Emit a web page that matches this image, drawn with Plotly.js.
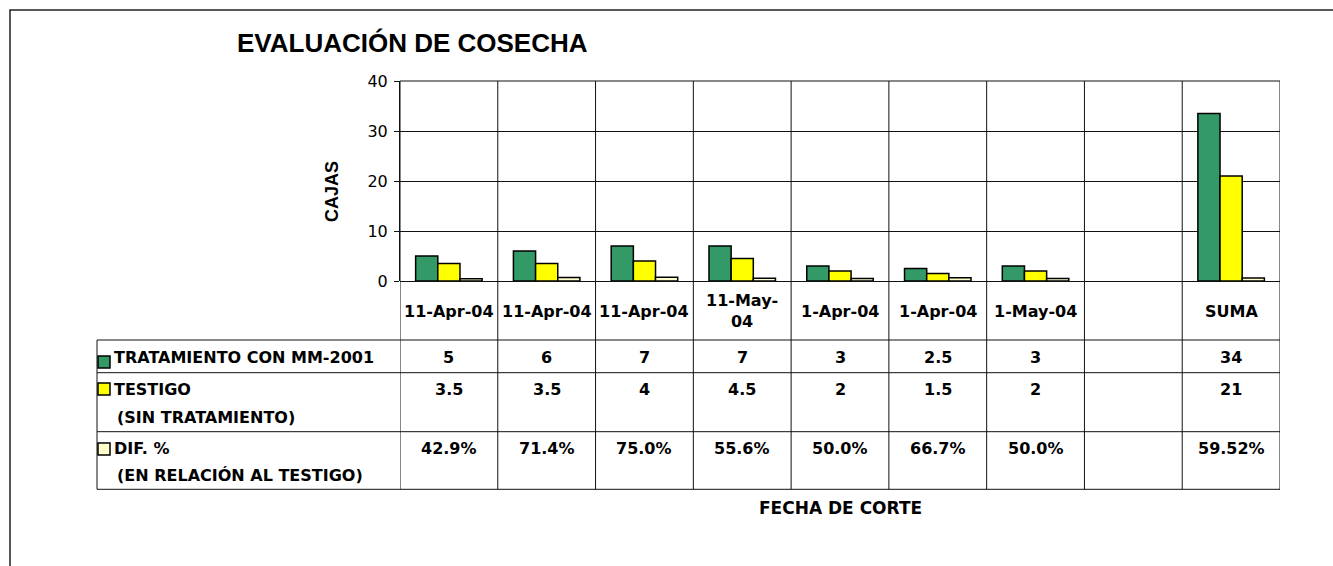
<!DOCTYPE html>
<html>
<head>
<meta charset="utf-8">
<script src="https://cdn.plot.ly/plotly-3.0.1.min.js"></script>
<style>html,body{margin:0;padding:0;background:#fff;}#chart{width:1333px;height:566px;}</style>
</head>
<body>
<div id="chart"></div>
<script>
// ---- data ----
const categories = ['11-Apr-04','11-Apr-04','11-Apr-04','11-May-04','1-Apr-04','1-Apr-04','1-May-04','','SUMA'];
const tickLabels = ['11-Apr-04','11-Apr-04','11-Apr-04','11-May-<br>04','1-Apr-04','1-Apr-04','1-May-04','','SUMA'];
const tratamiento = [5, 6, 7, 7, 3, 2.5, 3, null, 33.5];
const testigo = [3.5, 3.5, 4, 4.5, 2, 1.5, 2, null, 21];
const difPct = [0.429, 0.714, 0.750, 0.556, 0.500, 0.667, 0.500, null, 0.5952];
const tratLabels = ['5','6','7','7','3','2.5','3','','34'];
const testigoLabels = ['3.5','3.5','4','4.5','2','1.5','2','','21'];
const difLabels = ['42.9%','71.4%','75.0%','55.6%','50.0%','66.7%','50.0%','','59.52%'];
const seriesNames = ['TRATAMIENTO CON MM-2001','TESTIGO','DIF. %'];
const seriesSub = ['','(SIN TRATAMIENTO)','(EN RELACIÓN AL TESTIGO)'];
const seriesColors = ['#339966','#FFFF00','#FFFFCC'];
const yTicks = [0,10,20,30,40];

// ---- geometry helpers (pixel -> paper) ----
const L = 400, R = 1280, T = 81, B = 281;
const px2x = p => (p - L) / (R - L);
const py2y = p => (B - p) / (B - T);
const FONT = 'Liberation Sans, Arial, sans-serif';
const TFONT = 'DejaVu Sans, Liberation Sans, sans-serif';

const xIdx = categories.map((c, i) => i);
const seriesData = [tratamiento, testigo, difPct];

const traces = seriesData.map((vals, k) => ({
  type: 'bar',
  x: xIdx,
  y: vals,
  name: seriesNames[k],
  marker: {color: seriesColors[k], line: {color: '#000', width: 1.5}},
  hoverinfo: 'skip'
}));

const shapes = [];
const annotations = [];

// outer chart border
shapes.push({type:'rect', xref:'paper', yref:'paper', x0:px2x(10), x1:px2x(1345), y0:py2y(580), y1:py2y(10),
  line:{color:'#222', width:1.5}, fillcolor:'rgba(0,0,0,0)', layer:'below'});

// table rows (pixel y)
const rowLines = [340, 372.7, 431.7, 489.3];
const tableLeft = 97;
// vertical category boundaries (plot + table)
for (let i = 0; i <= categories.length; i++) {
  shapes.push({type:'line', xref:'x', yref:'paper', x0:i-0.5, x1:i-0.5, y0:py2y(rowLines[3]), y1:1,
    line:{color:'#111', width:1}});
}
// horizontal table lines
rowLines.forEach(py => {
  shapes.push({type:'line', xref:'paper', yref:'paper', x0:px2x(tableLeft), x1:1, y0:py2y(py), y1:py2y(py),
    line:{color:'#111', width:1}});
});
// left table border
shapes.push({type:'line', xref:'paper', yref:'paper', x0:px2x(tableLeft), x1:px2x(tableLeft),
  y0:py2y(rowLines[0]), y1:py2y(rowLines[3]), line:{color:'#111', width:1}});
// top of plot area
shapes.push({type:'line', xref:'paper', yref:'paper', x0:0, x1:1, y0:1, y1:1, line:{color:'#111', width:1}});

// legend keys
const keyTops = [356, 383, 443];
keyTops.forEach((py, k) => {
  shapes.push({type:'rect', xref:'paper', yref:'paper', x0:px2x(98), x1:px2x(110), y0:py2y(py+12), y1:py2y(py),
    fillcolor:seriesColors[k], line:{color:'#000', width:1.5}});
});

// title
annotations.push({xref:'paper', yref:'paper', x:px2x(412), y:py2y(43), text:'<b>EVALUACIÓN DE COSECHA</b>',
  showarrow:false, xanchor:'center', yanchor:'middle', font:{family:FONT, size:26, color:'#000'}});
// y title
annotations.push({xref:'paper', yref:'paper', x:px2x(332), y:py2y(192), text:'<b>CAJAS</b>', textangle:-90,
  showarrow:false, xanchor:'center', yanchor:'middle', font:{family:FONT, size:18, color:'#000'}});
// x title
annotations.push({xref:'paper', yref:'paper', x:px2x(840), y:py2y(508), text:'<b>FECHA DE CORTE</b>',
  showarrow:false, xanchor:'center', yanchor:'middle', font:{family:TFONT, size:17, color:'#000'}});

const cellFont = {family:TFONT, size:16, color:'#000'};
// category labels
tickLabels.forEach((t, i) => {
  if (!t) return;
  annotations.push({xref:'x', yref:'paper', x:i, y:py2y(311), text:'<b>'+t+'</b>', showarrow:false,
    xanchor:'center', yanchor:'middle', font:cellFont});
});
// values
const rowTextY = [357, 389, 448];
[tratLabels, testigoLabels, difLabels].forEach((arr, k) => {
  arr.forEach((t, i) => {
    if (!t) return;
    annotations.push({xref:'x', yref:'paper', x:i, y:py2y(rowTextY[k]), text:'<b>'+t+'</b>', showarrow:false,
      xanchor:'center', yanchor:'middle', font:cellFont});
  });
});
// row labels
const subY = [null, 417, 475];
seriesNames.forEach((n, k) => {
  annotations.push({xref:'paper', yref:'paper', x:px2x(112), y:py2y(rowTextY[k]), text:'<b>'+n+'</b>', showarrow:false,
    xanchor:'left', yanchor:'middle', font:cellFont});
  if (seriesSub[k]) {
    annotations.push({xref:'paper', yref:'paper', x:px2x(115), y:py2y(subY[k]), text:'<b>'+seriesSub[k]+'</b>', showarrow:false,
      xanchor:'left', yanchor:'middle', font:cellFont});
  }
});

const layout = {
  width: 1333, height: 566,
  margin: {l: L, r: 1333 - R, t: T, b: 566 - B, pad: 0},
  paper_bgcolor: '#fff', plot_bgcolor: '#fff',
  showlegend: false,
  barmode: 'group', bargap: 0.32, bargroupgap: 0,
  font: {family: FONT, color: '#000'},
  xaxis: {range: [-0.5, categories.length - 0.5], showticklabels: false, showgrid: false, zeroline: false,
    showline: false, ticks: '', fixedrange: true},
  yaxis: {range: [0, 40], tickvals: yTicks, ticktext: yTicks.map(String), ticks: 'outside', ticklen: 5,
    tickcolor: '#111', tickwidth: 1, showgrid: true, gridcolor: '#111', gridwidth: 1,
    zeroline: true, zerolinecolor: '#111', zerolinewidth: 1, showline: true, linecolor: '#111', linewidth: 1,
    tickfont: {family: TFONT, size: 16, color: '#000'}, ticklabelstandoff: 3, fixedrange: true},
  shapes: shapes,
  annotations: annotations
};

Plotly.newPlot('chart', traces, layout, {displayModeBar: false, staticPlot: true});
</script>
</body>
</html>
